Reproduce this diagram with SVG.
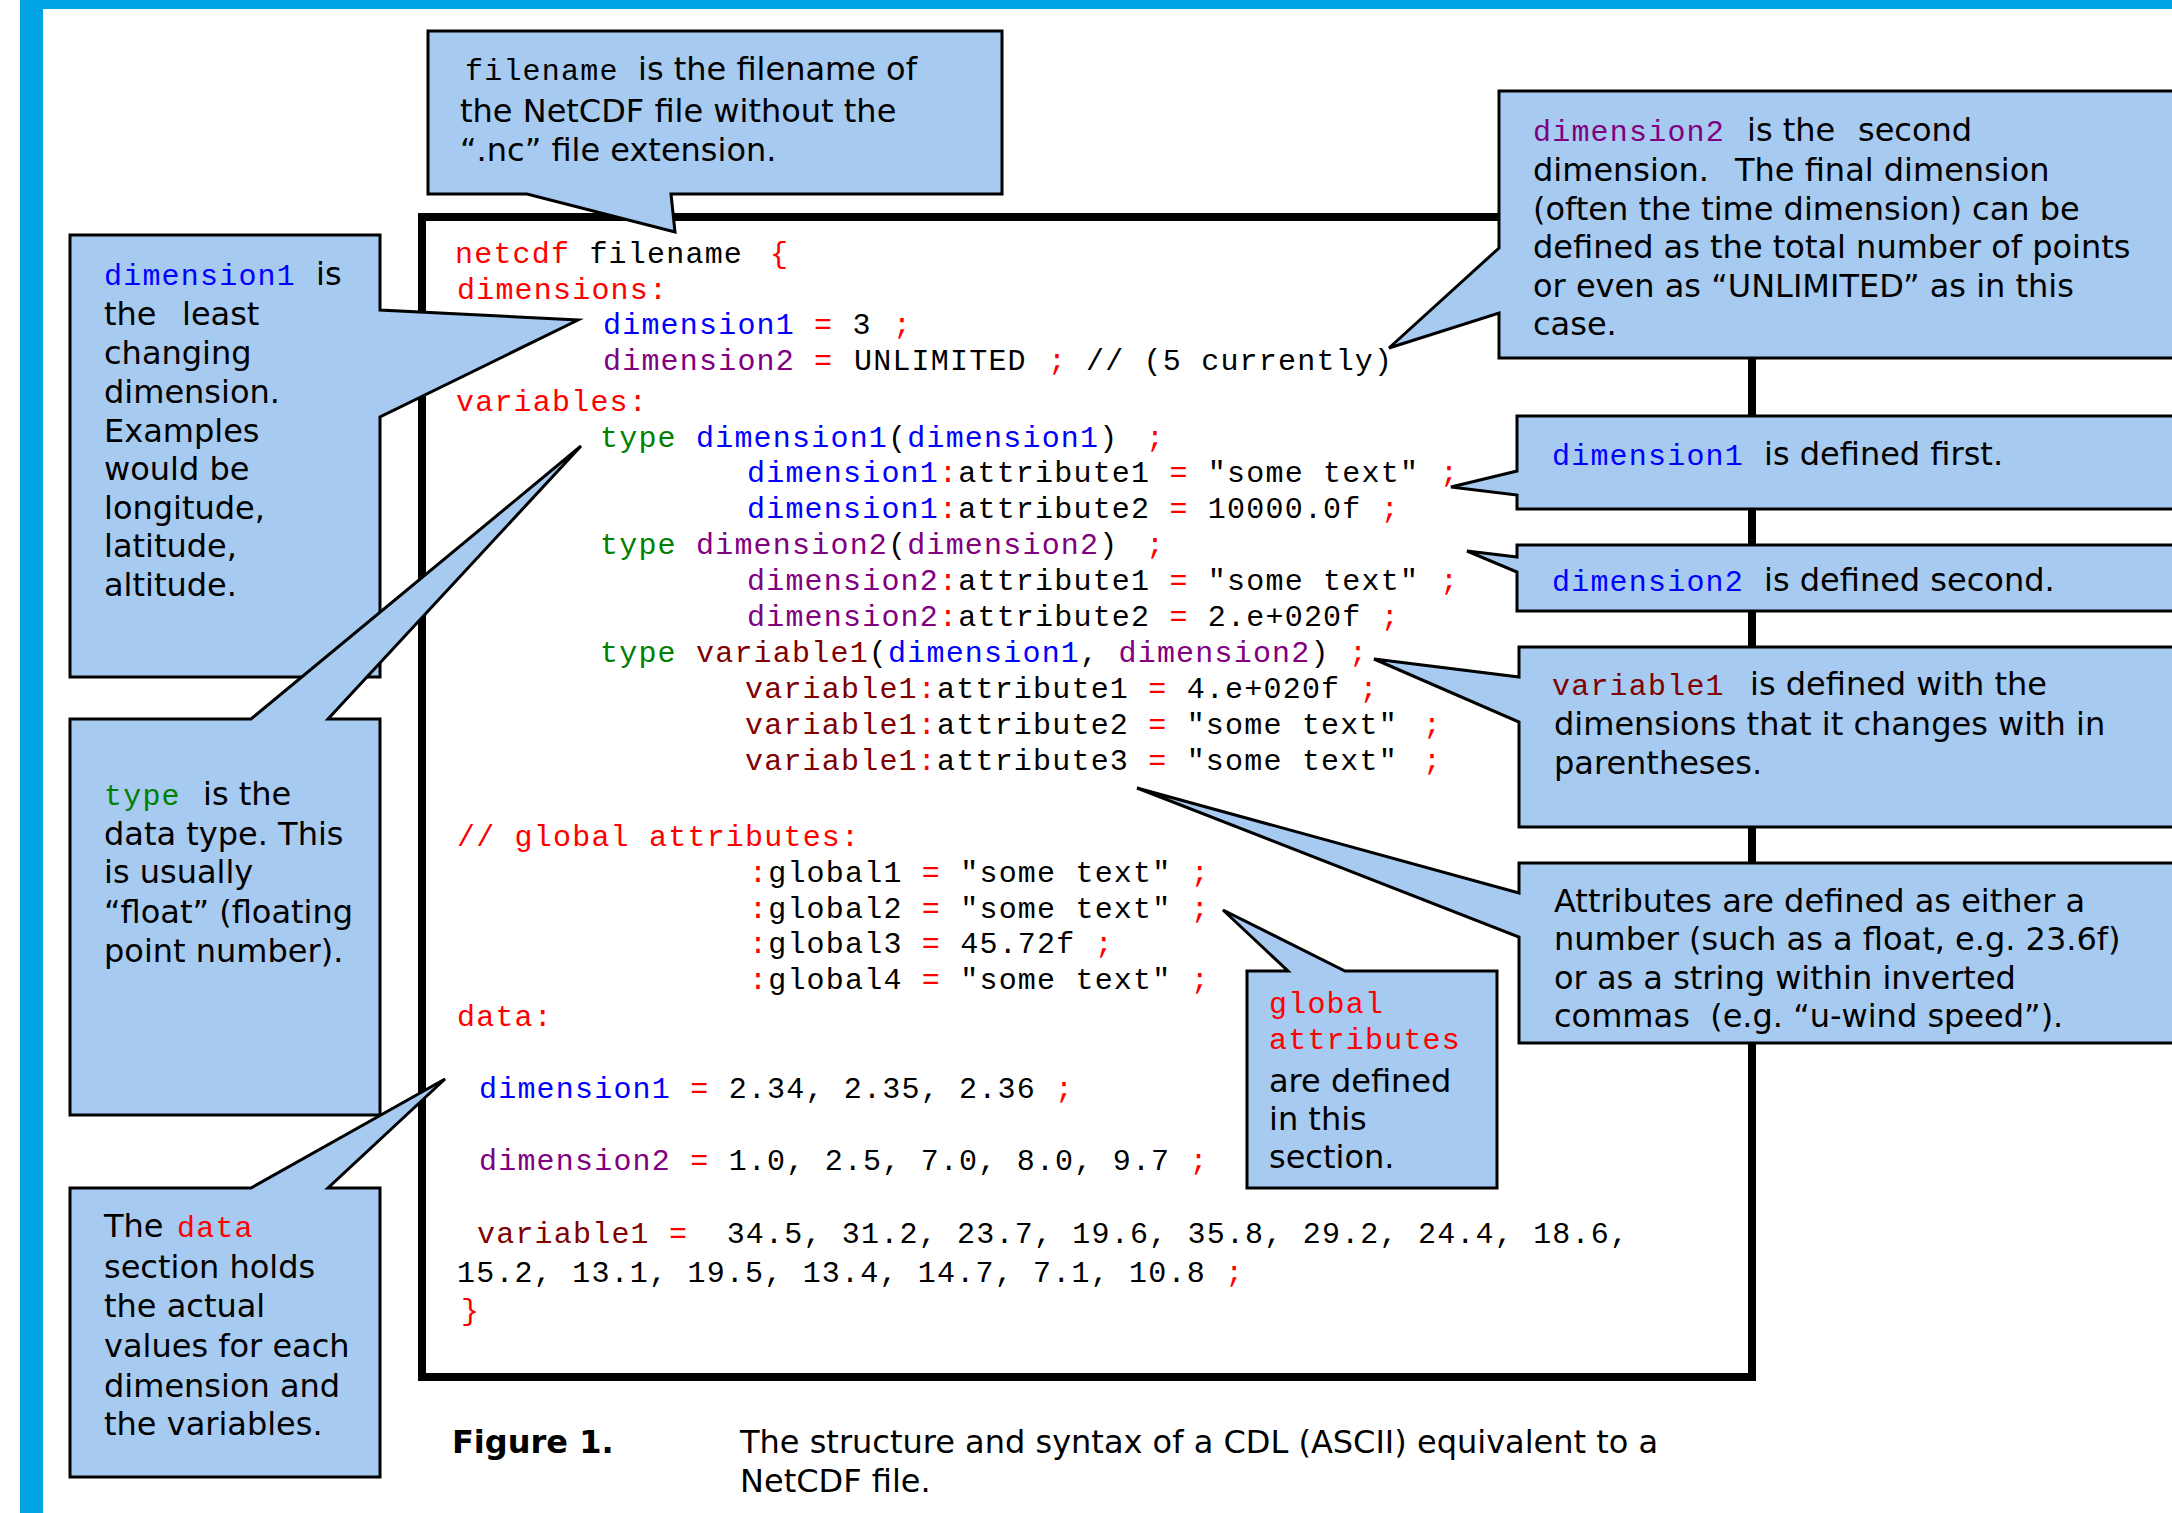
<svg xmlns="http://www.w3.org/2000/svg" width="2172" height="1513" viewBox="0 0 2172 1513" xml:space="preserve">
<style>
.frame{fill:#00A3E3}
.box{fill:none;stroke:#000;stroke-width:8}
.co{fill:#A6CAF0;stroke:#000;stroke-width:3;stroke-linejoin:miter;stroke-miterlimit:4}
.code{font-family:"Liberation Mono","DejaVu Sans Mono",monospace;font-size:30px;letter-spacing:1.2px;white-space:pre}
.t{font-family:"DejaVu Sans","Liberation Sans",sans-serif;font-size:32px;fill:#000;white-space:pre}
.cap{font-family:"DejaVu Sans","Liberation Sans",sans-serif;font-size:32px;fill:#000;white-space:pre}
.b{font-weight:bold}
.r{fill:#FF0000}.k{fill:#000}.bl{fill:#0000FF}.pu{fill:#800080}.dr{fill:#800000}.gr{fill:#008000}
</style>
<rect x="0" y="0" width="2172" height="1513" fill="#fff"/>
<g id="frame">
<rect class="frame" x="20" y="0" width="2152" height="9"/>
<rect class="frame" x="20" y="0" width="23" height="1513"/>
</g>
<g id="code-box">
<rect class="box" x="422" y="217" width="1330" height="1160"/>
<text class="code" y="263"><tspan x="455" class="r">netcdf</tspan><tspan class="k"> filename </tspan><tspan x="770" class="r">{</tspan></text>
<text class="code r" x="457" y="299">dimensions:</text>
<text class="code" y="334"><tspan x="603" class="bl">dimension1</tspan><tspan x="814" class="r">=</tspan><tspan class="k"> 3 </tspan><tspan x="893" class="r">;</tspan></text>
<text class="code" y="370"><tspan x="603" class="pu">dimension2</tspan><tspan x="814" class="r">=</tspan><tspan x="854" class="k">UNLIMITED</tspan><tspan x="1048" class="r">;</tspan><tspan x="1086" class="k">// (5 currently)</tspan></text>
<text class="code r" x="456" y="411">variables:</text>
<text class="code" y="447"><tspan x="600" class="gr">type </tspan><tspan class="bl">dimension1</tspan><tspan class="k">(</tspan><tspan class="bl">dimension1</tspan><tspan class="k">)</tspan><tspan x="1146" class="r">;</tspan></text>
<text class="code" y="482"><tspan x="747" class="bl">dimension1</tspan><tspan class="r">:</tspan><tspan class="k">attribute1 </tspan><tspan class="r">=</tspan><tspan class="k"> "some text"</tspan><tspan x="1440" class="r">;</tspan></text>
<text class="code" y="518"><tspan x="747" class="bl">dimension1</tspan><tspan class="r">:</tspan><tspan class="k">attribute2 </tspan><tspan class="r">=</tspan><tspan class="k"> 10000.0f </tspan><tspan class="r">;</tspan></text>
<text class="code" y="554"><tspan x="600" class="gr">type </tspan><tspan class="pu">dimension2</tspan><tspan class="k">(</tspan><tspan class="pu">dimension2</tspan><tspan class="k">)</tspan><tspan x="1146" class="r">;</tspan></text>
<text class="code" y="590"><tspan x="747" class="pu">dimension2</tspan><tspan class="r">:</tspan><tspan class="k">attribute1 </tspan><tspan class="r">=</tspan><tspan class="k"> "some text"</tspan><tspan x="1440" class="r">;</tspan></text>
<text class="code" y="626"><tspan x="747" class="pu">dimension2</tspan><tspan class="r">:</tspan><tspan class="k">attribute2 </tspan><tspan class="r">=</tspan><tspan class="k"> 2.e+020f </tspan><tspan class="r">;</tspan></text>
<text class="code" y="662"><tspan x="600" class="gr">type </tspan><tspan class="dr">variable1</tspan><tspan class="k">(</tspan><tspan class="bl">dimension1</tspan><tspan class="k">, </tspan><tspan class="pu">dimension2</tspan><tspan class="k">) </tspan><tspan class="r">;</tspan></text>
<text class="code" y="698"><tspan x="745" class="dr">variable1</tspan><tspan class="r">:</tspan><tspan class="k">attribute1 </tspan><tspan class="r">=</tspan><tspan class="k"> 4.e+020f </tspan><tspan class="r">;</tspan></text>
<text class="code" y="734"><tspan x="745" class="dr">variable1</tspan><tspan class="r">:</tspan><tspan class="k">attribute2 </tspan><tspan class="r">=</tspan><tspan class="k"> "some text"</tspan><tspan x="1423" class="r">;</tspan></text>
<text class="code" y="770"><tspan x="745" class="dr">variable1</tspan><tspan class="r">:</tspan><tspan class="k">attribute3 </tspan><tspan class="r">=</tspan><tspan class="k"> "some text"</tspan><tspan x="1423" class="r">;</tspan></text>
<text class="code r" x="457" y="846">// global attributes:</text>
<text class="code" y="882"><tspan x="749" class="r">:</tspan><tspan class="k">global1 </tspan><tspan class="r">=</tspan><tspan class="k"> "some text" </tspan><tspan class="r">;</tspan></text>
<text class="code" y="918"><tspan x="749" class="r">:</tspan><tspan class="k">global2 </tspan><tspan class="r">=</tspan><tspan class="k"> "some text" </tspan><tspan class="r">;</tspan></text>
<text class="code" y="953"><tspan x="749" class="r">:</tspan><tspan class="k">global3 </tspan><tspan class="r">=</tspan><tspan class="k"> 45.72f </tspan><tspan class="r">;</tspan></text>
<text class="code" y="989"><tspan x="749" class="r">:</tspan><tspan class="k">global4 </tspan><tspan class="r">=</tspan><tspan class="k"> "some text" </tspan><tspan class="r">;</tspan></text>
<text class="code r" x="457" y="1026">data:</text>
<text class="code" y="1098"><tspan x="479" class="bl">dimension1</tspan><tspan class="k"> </tspan><tspan class="r">=</tspan><tspan class="k"> 2.34, 2.35, 2.36 </tspan><tspan class="r">;</tspan></text>
<text class="code" y="1170"><tspan x="479" class="pu">dimension2</tspan><tspan class="k"> </tspan><tspan class="r">=</tspan><tspan class="k"> 1.0, 2.5, 7.0, 8.0, 9.7 </tspan><tspan class="r">;</tspan></text>
<text class="code" y="1243"><tspan x="477" class="dr">variable1</tspan><tspan class="k"> </tspan><tspan class="r">=</tspan><tspan class="k">  34.5, 31.2, 23.7, 19.6, 35.8, 29.2, 24.4, 18.6,</tspan></text>
<text class="code" y="1282"><tspan x="457" class="k">15.2, 13.1, 19.5, 13.4, 14.7, 7.1, 10.8 </tspan><tspan class="r">;</tspan></text>
<text class="code r" x="461" y="1320">}</text>
</g>
<g id="callout-filename">
<path class="co" d="M428,31 H1002 V194 H671 L675,232 L527,194 H428 Z"/>
<text class="code k" x="465" y="80">filename</text>
<text class="t" x="638" y="80">is the filename of</text>
<text class="t" x="460" y="122">the NetCDF file without the</text>
<text class="t" x="460" y="161">“.nc” file extension.</text>
</g>
<g id="callout-dimension1">
<path class="co" d="M70,235 H380 V310 L578,320 L380,417 V677 H70 Z"/>
<text class="code bl" x="104" y="285">dimension1</text>
<text class="t" x="316" y="285">is</text>
<text class="t" x="104" y="325">the</text>
<text class="t" x="182" y="325">least</text>
<text class="t" x="104" y="364">changing</text>
<text class="t" x="104" y="403">dimension.</text>
<text class="t" x="104" y="442">Examples</text>
<text class="t" x="104" y="480">would be</text>
<text class="t" x="104" y="519">longitude,</text>
<text class="t" x="104" y="557">latitude,</text>
<text class="t" x="104" y="596">altitude.</text>
</g>
<g id="callout-type">
<path class="co" d="M70,719 H251 L581,446 L328,719 H380 V1115 H70 Z"/>
<text class="code gr" x="104" y="805">type</text>
<text class="t" x="203" y="805">is the</text>
<text class="t" x="104" y="845">data type. This</text>
<text class="t" x="104" y="883">is usually</text>
<text class="t" x="104" y="923">“float” (floating</text>
<text class="t" x="104" y="962">point number).</text>
</g>
<g id="callout-data">
<path class="co" d="M70,1188 H251 L445,1079 L328,1188 H380 V1477 H70 Z"/>
<text class="t" x="104" y="1237">The</text>
<text class="code r" x="177" y="1237">data</text>
<text class="t" x="104" y="1278">section holds</text>
<text class="t" x="104" y="1317">the actual</text>
<text class="t" x="104" y="1357">values for each</text>
<text class="t" x="104" y="1397">dimension and</text>
<text class="t" x="104" y="1435">the variables.</text>
</g>
<g id="callout-dimension2">
<path class="co" d="M1499,91 H2180 V358 H1499 V313 L1389,348 L1499,248 Z"/>
<text class="code pu" x="1533" y="141">dimension2</text>
<text class="t" x="1747" y="141">is the</text>
<text class="t" x="1858" y="141">second</text>
<text class="t" x="1533" y="181">dimension.</text>
<text class="t" x="1735" y="181">The final dimension</text>
<text class="t" x="1533" y="220">(often the time dimension) can be</text>
<text class="t" x="1533" y="258">defined as the total number of points</text>
<text class="t" x="1533" y="297">or even as “UNLIMITED” as in this</text>
<text class="t" x="1533" y="335">case.</text>
</g>
<g id="callout-dim1-first">
<path class="co" d="M1517,416 H2180 V509 H1517 V495 L1451,487 L1517,471 Z"/>
<text class="code bl" x="1552" y="465">dimension1</text>
<text class="t" x="1764" y="465">is defined first.</text>
</g>
<g id="callout-dim2-second">
<path class="co" d="M1517,545 H2180 V611 H1517 V572 L1467,551 L1517,557 Z"/>
<text class="code bl" x="1552" y="591">dimension2</text>
<text class="t" x="1764" y="591">is defined second.</text>
</g>
<g id="callout-variable1">
<path class="co" d="M1519,647 H2180 V827 H1519 V722 L1374,659 L1519,677 Z"/>
<text class="code dr" x="1552" y="695">variable1</text>
<text class="t" x="1750" y="695">is defined with the</text>
<text class="t" x="1554" y="735">dimensions that it changes with in</text>
<text class="t" x="1554" y="774">parentheses.</text>
</g>
<g id="callout-attributes">
<path class="co" d="M1519,863 H2180 V1043 H1519 V937 L1137,788 L1519,893 Z"/>
<text class="t" x="1554" y="912">Attributes are defined as either a</text>
<text class="t" x="1554" y="950">number (such as a float, e.g. 23.6f)</text>
<text class="t" x="1554" y="989">or as a string within inverted</text>
<text class="t" x="1554" y="1027">commas  (e.g. “u-wind speed”).</text>
</g>
<g id="callout-global">
<path class="co" d="M1247,971 H1288 L1223,910 L1345,971 H1497 V1188 H1247 Z"/>
<text class="code r" x="1269" y="1013">global</text>
<text class="code r" x="1269" y="1049">attributes</text>
<text class="t" x="1269" y="1092">are defined</text>
<text class="t" x="1269" y="1130">in this</text>
<text class="t" x="1269" y="1168">section.</text>
</g>
<g id="caption">
<text class="cap b" x="452" y="1453">Figure 1.</text>
<text class="cap" x="740" y="1453">The structure and syntax of a CDL (ASCII) equivalent to a</text>
<text class="cap" x="740" y="1492">NetCDF file.</text>
</g>
</svg>
